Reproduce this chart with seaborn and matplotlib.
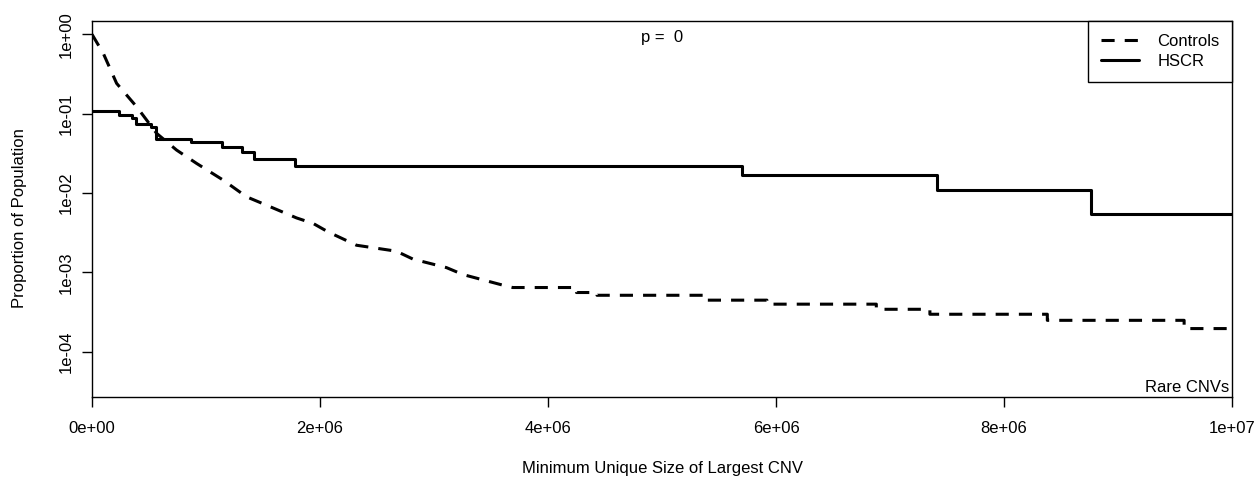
import matplotlib
matplotlib.use("Agg")
import matplotlib.pyplot as plt
from matplotlib.lines import Line2D
import seaborn as sns
import pandas as pd

# HSCR cases: proportion with largest CNV at least this size (step curve)
hscr_size = [0, 0.24e6, 0.35e6, 0.39e6, 0.52e6, 0.56e6, 0.87e6, 1.14e6,
             1.32e6, 1.42e6, 1.78e6, 5.70e6, 7.41e6, 8.76e6, 1.0e7]
hscr_prop = [0.108, 0.096, 0.089, 0.074, 0.068, 0.048, 0.044, 0.0376,
             0.033, 0.0272, 0.0221, 0.0168, 0.0109, 0.0055, 0.0055]

# Controls: dense curve near zero, coarse steps in the tail
ctrl_size = [0, 0.099e6, 0.216e6, 0.392e6, 0.567e6, 0.742e6, 0.918e6,
             1.151e6, 1.356e6, 1.531e6, 1.794e6, 1.940e6, 2.071e6, 2.320e6,
             2.670e6, 2.816e6, 3.109e6, 3.254e6, 3.605e6, 3.690e6,
             4.25e6, 4.25e6, 4.43e6, 4.43e6, 5.40e6, 5.40e6, 5.92e6, 5.92e6,
             6.88e6, 6.88e6, 7.35e6, 7.35e6, 8.38e6, 8.38e6, 9.58e6, 9.58e6,
             1.0e7]
ctrl_prop = [1.0, 0.576, 0.241, 0.122, 0.0565, 0.0348, 0.0236,
             0.01455, 0.00896, 0.00703, 0.00486, 0.00414, 0.00324, 0.00220,
             0.00185, 0.00147, 0.00115, 0.00094, 0.00069, 0.000645,
             0.000645, 0.000558, 0.000558, 0.000515, 0.000515, 0.000447,
             0.000447, 0.000398, 0.000398, 0.000343, 0.000343, 0.000297,
             0.000297, 0.000249, 0.000249, 0.000196, 0.000196]

x_ticks = [0, 2e6, 4e6, 6e6, 8e6, 1e7]
x_tick_labels = ["0e+00", "2e+06", "4e+06", "6e+06", "8e+06", "1e+07"]
y_ticks = [1e0, 1e-1, 1e-2, 1e-3, 1e-4]
y_tick_labels = ["1e+00", "1e-01", "1e-02", "1e-03", "1e-04"]

sns.set_theme(style="white")
plt.rcParams["font.family"] = ["Liberation Sans", "DejaVu Sans"]
plt.rcParams["text.color"] = "black"

W, H = 1256, 479
fig = plt.figure(figsize=(W / 100, H / 100), dpi=100)
ax = fig.add_axes([92 / W, 1 - 397 / H, 1140 / W, 376 / H])

ctrl = pd.DataFrame({"size": ctrl_size, "prop": ctrl_prop})
hscr = pd.DataFrame({"size": hscr_size, "prop": hscr_prop})

dash = (0, (4.3, 3.3))
lw = 2.2
fs = 12
sns.lineplot(data=ctrl, x="size", y="prop", ax=ax, estimator=None, sort=False,
             color="black", lw=lw, linestyle=dash)
sns.lineplot(data=hscr, x="size", y="prop", ax=ax, estimator=None, sort=False,
             color="black", lw=lw, drawstyle="steps-post")

ax.set_yscale("log")
ax.set_xlim(0, 1e7)
ax.set_ylim(10 ** -4.57, 10 ** 0.168)
ax.set_xticks(x_ticks)
ax.set_xticklabels(x_tick_labels)
ax.set_yticks(y_ticks)
ax.set_yticklabels(y_tick_labels, rotation=90, va="center")
ax.minorticks_off()
ax.tick_params(axis="both", which="major", direction="out", length=7,
               width=1, color="black", labelsize=fs, labelcolor="black",
               bottom=True, left=True)
ax.tick_params(axis="x", pad=10)
ax.tick_params(axis="y", pad=6)
for s in ax.spines.values():
    s.set_color("black")
    s.set_linewidth(1)
ax.grid(False)

ax.set_xlabel("")
ax.set_ylabel("")
fig.text(662 / W, 1 - 469 / H, "Minimum Unique Size of Largest CNV",
         ha="center", va="center", fontsize=fs, color="black")
fig.text(20 / W, 1 - 218 / H, "Proportion of Population", rotation=90,
         ha="center", va="center", fontsize=fs, color="black")

ax.text(0.5, 0.975, "p =  0", transform=ax.transAxes, ha="center", va="top",
        fontsize=fs, color="black")
ax.text(0.998, 0.005, "Rare CNVs", transform=ax.transAxes, ha="right",
        va="bottom", fontsize=fs, color="black")

handles = [Line2D([], [], color="black", lw=lw, linestyle=dash),
           Line2D([], [], color="black", lw=lw)]
leg = ax.legend(handles, ["Controls", "HSCR"], loc="upper right",
                borderaxespad=0, fancybox=False, framealpha=1,
                edgecolor="black", fontsize=fs, handlelength=2.3,
                handletextpad=1.1, borderpad=0.75, labelspacing=0.35)
leg.get_frame().set_linewidth(1)
for t in leg.get_texts():
    t.set_color("black")

fig.savefig("out.png", dpi=100, facecolor="white")
